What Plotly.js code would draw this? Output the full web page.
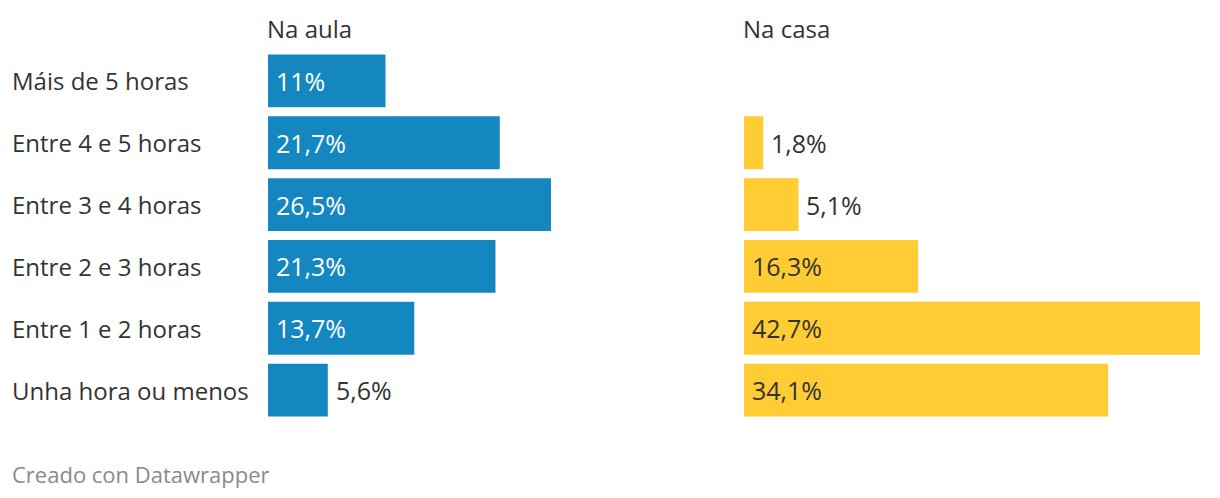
<!DOCTYPE html>
<html>
<head>
<meta charset="utf-8">
<script src="https://cdn.plot.ly/plotly-3.0.1.min.js"></script>
<style>html,body{margin:0;padding:0;background:#fff;}#chart{width:1220px;height:498px;}</style>
</head>
<body>
<div id="chart"></div>
<script>
const categories = ["Máis de 5 horas", "Entre 4 e 5 horas", "Entre 3 e 4 horas", "Entre 2 e 3 horas", "Entre 1 e 2 horas", "Unha hora ou menos"];
const naAula = [11, 21.7, 26.5, 21.3, 13.7, 5.6];
const naCasa = [null, 1.8, 5.1, 16.3, 42.7, 34.1];
const panelTitles = ["Na aula", "Na casa"];
const footer = "Creado con Datawrapper";

const FONT = "Open Sans, Noto Sans, sans-serif";
const BLUE = "#1487c0";
const YELLOW = "#ffcc33";
const DARK = "#333333";
const XMAX = 42.7;
const INSIDE_MIN = 8;

const W = 1220, L = 268, R = 20;
const plotW = W - L - R;
const gapPx = 20;
const leftEnd = (plotW - gapPx) / 2 / plotW;
const rightStart = 1 - leftEnd;

function fmt(v) { return String(v).replace('.', ',') + '%'; }

const traces = [
  { type: 'bar', orientation: 'h', x: naAula, y: categories, xaxis: 'x', yaxis: 'y',
    marker: { color: BLUE }, hoverinfo: 'none' },
  { type: 'bar', orientation: 'h', x: naCasa, y: categories, xaxis: 'x2', yaxis: 'y',
    marker: { color: YELLOW }, hoverinfo: 'none' }
];

const annotations = [];
function addLabels(values, xref, insideColor) {
  values.forEach((v, i) => {
    if (v === null) return;
    const inside = v >= INSIDE_MIN;
    annotations.push({
      xref: xref, yref: 'y', x: inside ? 0 : v, y: categories[i],
      text: fmt(v), showarrow: false, xanchor: 'left', yanchor: 'middle',
      xshift: 6, font: { family: FONT, size: 25, color: inside ? insideColor : DARK }
    });
  });
}
addLabels(naAula, 'x', '#ffffff');
addLabels(naCasa, 'x2', DARK);

categories.forEach(c => {
  annotations.push({
    xref: 'paper', yref: 'y', x: (10 - L) / plotW, y: c, text: c, showarrow: false,
    xanchor: 'left', yanchor: 'middle', font: { family: FONT, size: 24, color: DARK }
  });
});

[0, rightStart].forEach((px, i) => {
  annotations.push({
    xref: 'paper', yref: 'paper', x: px, y: 1, yshift: 22, text: panelTitles[i], showarrow: false,
    xanchor: 'left', yanchor: 'middle', xshift: -3, font: { family: FONT, size: 24, color: DARK }
  });
});

annotations.push({
  xref: 'paper', yref: 'paper', x: (10 - L) / plotW, y: 0, yshift: -53, text: footer,
  showarrow: false, xanchor: 'left', yanchor: 'middle', font: { family: FONT, size: 22, color: '#8a8a8a' }
});

const layout = {
  width: 1220, height: 498,
  margin: { l: L, r: R, t: 50, b: 77, pad: 0 },
  paper_bgcolor: '#fff', plot_bgcolor: '#fff',
  showlegend: false, bargap: 0.145,
  xaxis: { domain: [0, leftEnd], range: [0, XMAX], visible: false, fixedrange: true },
  xaxis2: { domain: [rightStart, 1], range: [0, XMAX], visible: false, fixedrange: true },
  yaxis: { type: 'category', categoryorder: 'array', categoryarray: categories,
    autorange: 'reversed', showticklabels: false, showgrid: false, zeroline: false, showline: false },
  annotations: annotations
};

Plotly.newPlot('chart', traces, layout, { displayModeBar: false, staticPlot: true });
</script>
</body>
</html>
